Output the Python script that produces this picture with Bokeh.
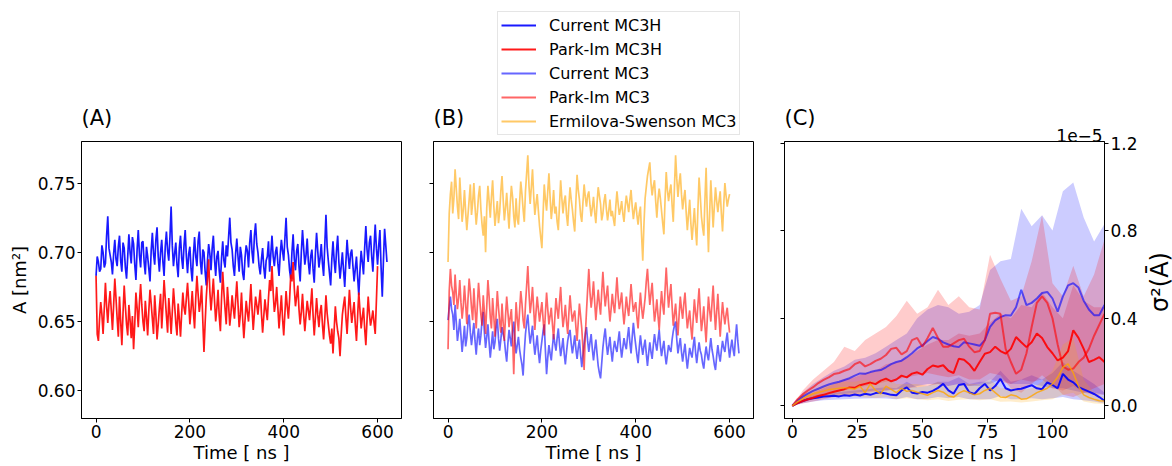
import math
import numpy as np
from bokeh.plotting import figure
from bokeh.models import (Range1d, FixedTicker, PrintfTickFormatter, CustomJSTickFormatter,
                          LinearAxis, Legend, LegendItem, Label)
from bokeh.layouts import row, column
from bokeh.embed import file_html
from bokeh.resources import INLINE

FONT = "DejaVu Sans"

# ---------------- Panel A / B : area per lipid time series (nm^2), every 2.5 ns ----------------
current_mc3h = [
    0.683, 0.697, 0.693, 0.686, 0.688, 0.705, 0.700, 0.689, 0.692, 0.712, 0.726, 0.703, 0.698, 0.693, 0.684, 0.699, 0.709, 0.695, 0.690, 0.704,
    0.712, 0.694, 0.686, 0.707, 0.703, 0.689, 0.681, 0.697, 0.713, 0.700, 0.692, 0.711, 0.706, 0.691, 0.680, 0.702, 0.716, 0.698, 0.689, 0.707,
    0.708, 0.693, 0.684, 0.704, 0.697, 0.688, 0.679, 0.701, 0.714, 0.699, 0.691, 0.709, 0.718, 0.697, 0.686, 0.700, 0.709, 0.693, 0.683, 0.704,
    0.715, 0.701, 0.694, 0.711, 0.733, 0.705, 0.690, 0.699, 0.707, 0.691, 0.682, 0.703, 0.712, 0.696, 0.688, 0.705, 0.716, 0.697, 0.685, 0.699,
    0.704, 0.688, 0.679, 0.698, 0.711, 0.697, 0.690, 0.708, 0.715, 0.693, 0.684, 0.702, 0.700, 0.686, 0.676, 0.694, 0.706, 0.699, 0.687, 0.703,
    0.712, 0.695, 0.683, 0.697, 0.701, 0.687, 0.678, 0.696, 0.708, 0.694, 0.689, 0.705, 0.697, 0.711, 0.725, 0.707, 0.702, 0.690, 0.683, 0.699,
    0.710, 0.697, 0.686, 0.704, 0.698, 0.685, 0.680, 0.696, 0.705, 0.701, 0.689, 0.707, 0.716, 0.700, 0.692, 0.712, 0.721, 0.706, 0.700, 0.690,
    0.684, 0.695, 0.703, 0.689, 0.681, 0.694, 0.697, 0.708, 0.686, 0.699, 0.712, 0.697, 0.690, 0.700, 0.704, 0.692, 0.683, 0.698, 0.709, 0.701,
    0.694, 0.710, 0.725, 0.704, 0.698, 0.687, 0.681, 0.700, 0.713, 0.695, 0.687, 0.701, 0.706, 0.690, 0.679, 0.700, 0.716, 0.703, 0.691, 0.698,
    0.710, 0.693, 0.684, 0.697, 0.702, 0.688, 0.678, 0.699, 0.714, 0.701, 0.689, 0.696, 0.706, 0.692, 0.683, 0.705, 0.727, 0.704, 0.694, 0.685,
    0.676, 0.695, 0.708, 0.694, 0.685, 0.701, 0.712, 0.693, 0.681, 0.690, 0.700, 0.687, 0.675, 0.693, 0.709, 0.697, 0.688, 0.699, 0.702, 0.690,
    0.679, 0.688, 0.697, 0.682, 0.669, 0.687, 0.701, 0.693, 0.684, 0.703, 0.719, 0.702, 0.693, 0.707, 0.712, 0.697, 0.686, 0.704, 0.720, 0.703,
    0.691, 0.705, 0.716, 0.689, 0.668, 0.694, 0.717, 0.705, 0.693,
]

parkim_mc3h = [
    0.683, 0.641, 0.636, 0.652, 0.664, 0.655, 0.641, 0.659, 0.678, 0.661, 0.649, 0.663, 0.672, 0.658, 0.644, 0.662, 0.681, 0.667, 0.652, 0.639,
    0.668, 0.650, 0.633, 0.656, 0.676, 0.661, 0.648, 0.640, 0.662, 0.651, 0.638, 0.654, 0.630, 0.648, 0.671, 0.660, 0.646, 0.664, 0.677, 0.662,
    0.650, 0.643, 0.665, 0.653, 0.640, 0.658, 0.673, 0.663, 0.652, 0.641, 0.669, 0.655, 0.637, 0.648, 0.660, 0.670, 0.645, 0.661, 0.680, 0.667,
    0.654, 0.642, 0.667, 0.656, 0.641, 0.657, 0.674, 0.662, 0.649, 0.640, 0.663, 0.652, 0.639, 0.656, 0.671, 0.660, 0.655, 0.667, 0.678, 0.664,
    0.648, 0.659, 0.672, 0.657, 0.645, 0.667, 0.683, 0.670, 0.657, 0.664, 0.676, 0.651, 0.628, 0.649, 0.668, 0.681, 0.695, 0.672, 0.658, 0.669,
    0.681, 0.665, 0.650, 0.660, 0.673, 0.654, 0.643, 0.667, 0.686, 0.671, 0.659, 0.648, 0.675, 0.662, 0.647, 0.656, 0.669, 0.660, 0.652, 0.666,
    0.679, 0.663, 0.646, 0.655, 0.671, 0.652, 0.638, 0.651, 0.665, 0.657, 0.650, 0.663, 0.677, 0.659, 0.644, 0.656, 0.668, 0.662, 0.655, 0.664,
    0.673, 0.656, 0.642, 0.654, 0.666, 0.658, 0.651, 0.667, 0.680, 0.672, 0.690, 0.671, 0.657, 0.663, 0.675, 0.660, 0.645, 0.657, 0.669, 0.652,
    0.640, 0.656, 0.672, 0.661, 0.652, 0.666, 0.684, 0.679, 0.693, 0.674, 0.661, 0.668, 0.676, 0.659, 0.648, 0.657, 0.670, 0.655, 0.643, 0.654,
    0.665, 0.658, 0.651, 0.662, 0.674, 0.655, 0.640, 0.653, 0.667, 0.655, 0.646, 0.657, 0.662, 0.648, 0.637, 0.652, 0.669, 0.656, 0.648, 0.640,
    0.634, 0.645, 0.627, 0.644, 0.661, 0.650, 0.643, 0.638, 0.625, 0.641, 0.655, 0.662, 0.668, 0.653, 0.641, 0.657, 0.673, 0.660, 0.649, 0.657,
    0.664, 0.648, 0.636, 0.654, 0.671, 0.658, 0.645, 0.653, 0.660, 0.645, 0.633, 0.651, 0.668, 0.656, 0.647, 0.652, 0.658, 0.649, 0.641, 0.665,
    0.690,
]

current_mc3 = [
    0.651, 0.660, 0.668, 0.659, 0.655, 0.644, 0.662, 0.650, 0.636, 0.643, 0.652, 0.640, 0.628, 0.637, 0.647, 0.632, 0.638, 0.649, 0.655, 0.642,
    0.633, 0.641, 0.649, 0.636, 0.626, 0.638, 0.645, 0.633, 0.640, 0.651, 0.657, 0.642, 0.631, 0.639, 0.648, 0.635, 0.624, 0.633, 0.643, 0.630,
    0.635, 0.646, 0.652, 0.638, 0.629, 0.637, 0.646, 0.641, 0.637, 0.628, 0.621, 0.634, 0.644, 0.638, 0.632, 0.643, 0.650, 0.636, 0.627, 0.633,
    0.639, 0.630, 0.624, 0.619, 0.611, 0.628, 0.641, 0.649, 0.655, 0.643, 0.634, 0.640, 0.647, 0.635, 0.626, 0.633, 0.640, 0.628, 0.620, 0.629,
    0.636, 0.643, 0.648, 0.629, 0.612, 0.624, 0.633, 0.627, 0.622, 0.632, 0.641, 0.634, 0.629, 0.638, 0.645, 0.634, 0.625, 0.631, 0.638, 0.627,
    0.619, 0.628, 0.636, 0.641, 0.644, 0.634, 0.627, 0.633, 0.640, 0.630, 0.623, 0.631, 0.637, 0.626, 0.617, 0.626, 0.634, 0.641, 0.646, 0.636,
    0.628, 0.635, 0.641, 0.630, 0.622, 0.630, 0.637, 0.627, 0.618, 0.613, 0.609, 0.620, 0.631, 0.639, 0.645, 0.634, 0.626, 0.632, 0.639, 0.629,
    0.621, 0.630, 0.636, 0.631, 0.628, 0.636, 0.643, 0.632, 0.624, 0.631, 0.638, 0.633, 0.630, 0.639, 0.646, 0.635, 0.627, 0.639, 0.649, 0.640,
    0.633, 0.626, 0.620, 0.631, 0.640, 0.632, 0.626, 0.632, 0.637, 0.627, 0.618, 0.627, 0.635, 0.628, 0.623, 0.633, 0.641, 0.634, 0.629, 0.637,
    0.644, 0.633, 0.625, 0.631, 0.636, 0.626, 0.619, 0.626, 0.633, 0.630, 0.628, 0.637, 0.643, 0.647, 0.650, 0.637, 0.627, 0.633, 0.638, 0.628,
    0.621, 0.628, 0.634, 0.624, 0.616, 0.624, 0.631, 0.627, 0.624, 0.632, 0.639, 0.628, 0.620, 0.628, 0.635, 0.629, 0.626, 0.620, 0.616, 0.625,
    0.632, 0.626, 0.622, 0.630, 0.638, 0.630, 0.625, 0.619, 0.615, 0.625, 0.633, 0.626, 0.621, 0.629, 0.636, 0.631, 0.628, 0.636, 0.642, 0.632,
    0.624, 0.631, 0.637, 0.630, 0.625, 0.638, 0.648, 0.636, 0.627,
]

parkim_mc3 = [
    0.630, 0.672, 0.688, 0.676, 0.671, 0.662, 0.684, 0.670, 0.659, 0.667, 0.680, 0.664, 0.652, 0.661, 0.676, 0.663, 0.648, 0.666, 0.681, 0.672,
    0.660, 0.651, 0.674, 0.659, 0.645, 0.662, 0.678, 0.666, 0.655, 0.647, 0.669, 0.657, 0.641, 0.661, 0.680, 0.668, 0.653, 0.645, 0.667, 0.654,
    0.639, 0.655, 0.672, 0.660, 0.650, 0.642, 0.663, 0.649, 0.636, 0.654, 0.668, 0.657, 0.646, 0.653, 0.659, 0.640, 0.612, 0.641, 0.664, 0.652,
    0.643, 0.658, 0.672, 0.663, 0.651, 0.645, 0.662, 0.676, 0.690, 0.671, 0.656, 0.664, 0.675, 0.659, 0.644, 0.657, 0.668, 0.659, 0.650, 0.657,
    0.664, 0.652, 0.640, 0.656, 0.671, 0.659, 0.648, 0.654, 0.660, 0.648, 0.637, 0.652, 0.667, 0.659, 0.652, 0.664, 0.675, 0.658, 0.646, 0.653,
    0.662, 0.650, 0.641, 0.656, 0.669, 0.658, 0.650, 0.655, 0.658, 0.646, 0.636, 0.650, 0.663, 0.654, 0.645, 0.631, 0.615, 0.640, 0.657, 0.673,
    0.688, 0.671, 0.660, 0.668, 0.679, 0.664, 0.651, 0.662, 0.673, 0.663, 0.655, 0.671, 0.686, 0.672, 0.661, 0.669, 0.676, 0.661, 0.650, 0.659,
    0.670, 0.662, 0.656, 0.669, 0.682, 0.668, 0.659, 0.664, 0.671, 0.658, 0.648, 0.657, 0.668, 0.660, 0.654, 0.665, 0.677, 0.666, 0.657, 0.661,
    0.664, 0.653, 0.645, 0.659, 0.671, 0.660, 0.652, 0.659, 0.667, 0.679, 0.688, 0.674, 0.662, 0.670, 0.678, 0.663, 0.650, 0.657, 0.666, 0.654,
    0.644, 0.659, 0.672, 0.662, 0.655, 0.673, 0.689, 0.673, 0.660, 0.669, 0.677, 0.661, 0.647, 0.655, 0.663, 0.650, 0.640, 0.655, 0.668, 0.659,
    0.652, 0.663, 0.671, 0.657, 0.645, 0.652, 0.658, 0.646, 0.637, 0.652, 0.666, 0.656, 0.649, 0.662, 0.674, 0.658, 0.643, 0.651, 0.661, 0.647,
    0.635, 0.652, 0.668, 0.658, 0.650, 0.663, 0.676, 0.659, 0.644, 0.657, 0.670, 0.654, 0.639, 0.652, 0.664, 0.655, 0.648, 0.655, 0.660, 0.650,
    0.642,
]

ermilova_mc3 = [
    0.693, 0.728, 0.742, 0.751, 0.728, 0.739, 0.760, 0.746, 0.733, 0.724, 0.754, 0.738, 0.722, 0.731, 0.745, 0.729, 0.716, 0.727, 0.738, 0.749,
    0.727, 0.736, 0.750, 0.733, 0.720, 0.729, 0.741, 0.748, 0.731, 0.720, 0.712, 0.726, 0.700, 0.732, 0.748, 0.737, 0.725, 0.740, 0.752, 0.734,
    0.719, 0.728, 0.737, 0.721, 0.729, 0.744, 0.755, 0.738, 0.723, 0.732, 0.743, 0.729, 0.717, 0.735, 0.748, 0.740, 0.726, 0.718, 0.739, 0.724,
    0.720, 0.736, 0.751, 0.742, 0.731, 0.722, 0.744, 0.757, 0.770, 0.748, 0.735, 0.747, 0.760, 0.741, 0.727, 0.735, 0.742, 0.730, 0.719, 0.711,
    0.703, 0.727, 0.749, 0.738, 0.730, 0.744, 0.757, 0.740, 0.724, 0.733, 0.745, 0.728, 0.733, 0.722, 0.716, 0.734, 0.752, 0.739, 0.728, 0.737,
    0.741, 0.727, 0.719, 0.734, 0.747, 0.738, 0.731, 0.722, 0.715, 0.737, 0.756, 0.745, 0.738, 0.727, 0.722, 0.736, 0.749, 0.740, 0.733, 0.741,
    0.744, 0.734, 0.726, 0.732, 0.740, 0.729, 0.721, 0.735, 0.747, 0.741, 0.735, 0.723, 0.728, 0.737, 0.742, 0.731, 0.723, 0.730, 0.738, 0.726,
    0.730, 0.724, 0.719, 0.733, 0.744, 0.735, 0.727, 0.731, 0.737, 0.728, 0.722, 0.733, 0.741, 0.735, 0.729, 0.738, 0.745, 0.733, 0.724, 0.731,
    0.736, 0.727, 0.720, 0.728, 0.733, 0.712, 0.694, 0.720, 0.739, 0.747, 0.755, 0.760, 0.765, 0.750, 0.741, 0.748, 0.752, 0.737, 0.725, 0.738,
    0.746, 0.739, 0.730, 0.721, 0.713, 0.738, 0.758, 0.745, 0.737, 0.744, 0.749, 0.734, 0.722, 0.747, 0.770, 0.753, 0.740, 0.750, 0.757, 0.742,
    0.731, 0.739, 0.745, 0.729, 0.716, 0.727, 0.738, 0.721, 0.709, 0.720, 0.732, 0.717, 0.705, 0.731, 0.754, 0.741, 0.726, 0.718, 0.712, 0.738,
    0.761, 0.728, 0.700, 0.728, 0.752, 0.735, 0.718, 0.733, 0.747, 0.737, 0.729, 0.737, 0.744, 0.728, 0.715, 0.734, 0.750, 0.741, 0.733, 0.738,
    0.742,
]

STEP_NS = 2.5
t_current_mc3h = np.arange(len(current_mc3h)) * STEP_NS
t_parkim_mc3h = np.arange(len(parkim_mc3h)) * STEP_NS
t_current_mc3 = np.arange(len(current_mc3)) * STEP_NS
t_parkim_mc3 = np.arange(len(parkim_mc3)) * STEP_NS
t_ermilova_mc3 = np.arange(len(ermilova_mc3)) * STEP_NS

# ---------------- Panel C : block averaging variance (units of 1e-5) ----------------
var_current_mc3h = [
    0, 0.012, 0.022, 0.030, 0.034, 0.038, 0.042, 0.044, 0.046, 0.043,
    0.048, 0.046, 0.052, 0.047, 0.055, 0.050, 0.058, 0.061, 0.056, 0.050,
    0.048, 0.070, 0.084, 0.060, 0.056, 0.063, 0.060, 0.068, 0.082, 0.100,
    0.070, 0.056, 0.095, 0.100, 0.062, 0.054, 0.080, 0.100, 0.070, 0.090,
    0.123, 0.080, 0.070, 0.075, 0.078, 0.086, 0.094, 0.080, 0.076, 0.107,
    0.095, 0.080, 0.146, 0.120, 0.107, 0.085, 0.075, 0.065, 0.054, 0.040,
    0.023,
]
var_parkim_mc3h = [
    0, 0.012, 0.022, 0.030, 0.037, 0.045, 0.050, 0.058, 0.064, 0.070,
    0.076, 0.084, 0.082, 0.094, 0.100, 0.106, 0.099, 0.115, 0.124, 0.112,
    0.120, 0.138, 0.130, 0.147, 0.153, 0.142, 0.168, 0.184, 0.178, 0.185,
    0.160, 0.150, 0.215, 0.210, 0.190, 0.160, 0.200, 0.238, 0.245, 0.270,
    0.250, 0.238, 0.260, 0.314, 0.290, 0.268, 0.290, 0.330, 0.310, 0.268,
    0.240, 0.207, 0.220, 0.250, 0.345, 0.310, 0.260, 0.200, 0.210, 0.222,
    0.200,
]
var_current_mc3 = [
    0, 0.025, 0.042, 0.056, 0.068, 0.078, 0.088, 0.097, 0.104, 0.110,
    0.118, 0.126, 0.138, 0.148, 0.146, 0.154, 0.160, 0.163, 0.176, 0.190,
    0.200, 0.206, 0.222, 0.240, 0.262, 0.276, 0.296, 0.314, 0.306, 0.290,
    0.280, 0.272, 0.268, 0.290, 0.285, 0.280, 0.274, 0.300, 0.360, 0.390,
    0.405, 0.414, 0.412, 0.450, 0.530, 0.460, 0.470, 0.490, 0.515, 0.520,
    0.490, 0.430, 0.500, 0.550, 0.560, 0.540, 0.480, 0.440, 0.414, 0.414,
    0.460,
]
var_parkim_mc3 = [
    0, 0.030, 0.052, 0.070, 0.085, 0.104, 0.118, 0.130, 0.145, 0.150,
    0.160, 0.168, 0.190, 0.200, 0.180, 0.190, 0.205, 0.215, 0.232, 0.260,
    0.265, 0.235, 0.250, 0.300, 0.310, 0.270, 0.310, 0.356, 0.310, 0.270,
    0.270, 0.285, 0.300, 0.306, 0.270, 0.245, 0.250, 0.300, 0.420, 0.425,
    0.420, 0.260, 0.200, 0.146, 0.165, 0.240, 0.360, 0.470, 0.500, 0.470,
    0.400, 0.280, 0.180, 0.165, 0.170, 0.200, 0.220, 0.260, 0.320, 0.370,
    0.420,
]
var_ermilova_mc3 = [
    0, 0.018, 0.032, 0.045, 0.055, 0.061, 0.067, 0.074, 0.077, 0.080,
    0.083, 0.080, 0.076, 0.090, 0.060, 0.100, 0.070, 0.055, 0.090, 0.075,
    0.060, 0.080, 0.066, 0.070, 0.062, 0.055, 0.048, 0.060, 0.070, 0.062,
    0.045, 0.040, 0.058, 0.069, 0.060, 0.050, 0.055, 0.070, 0.080, 0.060,
    0.040, 0.038, 0.050, 0.045, 0.030, 0.032, 0.045, 0.060, 0.070, 0.080,
    0.100, 0.130, 0.175, 0.192, 0.150, 0.090, 0.050, 0.038, 0.030, 0.023,
    0.022,
]
block_line = np.arange(len(var_current_mc3h)) * 2.0

# spread bands (lower / upper), every 4 ns
cur_mc3h_lo = [0, 0.012, 0.020, 0.025, 0.028, 0.030, 0.032, 0.033, 0.035, 0.033, 0.030,
               0.040, 0.030, 0.032, 0.040, 0.035, 0.040, 0.030, 0.030, 0.030, 0.045,
               0.030, 0.030, 0.035, 0.030, 0.035, 0.040, 0.030, 0.025, 0.020, 0.010]
cur_mc3h_hi = [0, 0.030, 0.045, 0.055, 0.060, 0.065, 0.070, 0.075, 0.080, 0.085, 0.080,
               0.110, 0.085, 0.090, 0.110, 0.110, 0.130, 0.100, 0.110, 0.110, 0.160,
               0.110, 0.120, 0.140, 0.120, 0.150, 0.200, 0.160, 0.130, 0.100, 0.060]
pim_mc3h_lo = [0, 0.010, 0.020, 0.030, 0.040, 0.045, 0.050, 0.060, 0.065, 0.070, 0.075,
               0.080, 0.085, 0.090, 0.100, 0.090, 0.100, 0.090, 0.100, 0.120, 0.110,
               0.100, 0.120, 0.110, 0.120, 0.080, 0.070, 0.090, 0.060, 0.050, 0.050]
pim_mc3h_hi = [0, 0.040, 0.060, 0.080, 0.100, 0.120, 0.130, 0.150, 0.160, 0.190, 0.200,
               0.220, 0.250, 0.280, 0.300, 0.300, 0.330, 0.320, 0.330, 0.380, 0.420,
               0.400, 0.460, 0.450, 0.520, 0.450, 0.400, 0.550, 0.480, 0.450, 0.450]
cur_mc3_lo = [0, 0.020, 0.035, 0.045, 0.050, 0.055, 0.060, 0.065, 0.070, 0.070, 0.075,
              0.080, 0.090, 0.100, 0.100, 0.090, 0.100, 0.090, 0.090, 0.100, 0.120,
              0.100, 0.100, 0.100, 0.090, 0.080, 0.080, 0.070, 0.060, 0.060, 0.050]
cur_mc3_hi = [0, 0.060, 0.100, 0.130, 0.160, 0.180, 0.210, 0.220, 0.240, 0.270, 0.300,
              0.330, 0.400, 0.440, 0.460, 0.450, 0.420, 0.430, 0.460, 0.620, 0.660,
              0.670, 0.900, 0.820, 0.870, 0.800, 0.980, 1.020, 0.860, 0.750, 0.830]
pim_mc3_lo = [0, 0.015, 0.030, 0.045, 0.060, 0.070, 0.080, 0.090, 0.100, 0.110, 0.120,
              0.130, 0.140, 0.150, 0.140, 0.130, 0.140, 0.120, 0.120, 0.150, 0.140,
              0.080, 0.060, 0.100, 0.140, 0.100, 0.050, 0.040, 0.060, 0.080, 0.100]
pim_mc3_hi = [0, 0.070, 0.120, 0.160, 0.200, 0.270, 0.250, 0.300, 0.330, 0.360, 0.410,
              0.480, 0.420, 0.450, 0.530, 0.460, 0.500, 0.450, 0.440, 0.690, 0.580,
              0.480, 0.500, 0.660, 0.870, 0.560, 0.500, 0.640, 0.500, 0.600, 0.760]
erm_mc3_lo = [0, 0.018, 0.030, 0.038, 0.040, 0.045, 0.042, 0.038, 0.035, 0.040, 0.030,
              0.035, 0.030, 0.025, 0.030, 0.022, 0.028, 0.030, 0.025, 0.030, 0.018,
              0.020, 0.015, 0.020, 0.025, 0.030, 0.050, 0.060, 0.020, 0.010, 0.008]
erm_mc3_hi = [0, 0.050, 0.075, 0.090, 0.100, 0.110, 0.110, 0.120, 0.110, 0.130, 0.100,
              0.100, 0.100, 0.090, 0.110, 0.090, 0.100, 0.100, 0.100, 0.120, 0.080,
              0.080, 0.070, 0.080, 0.110, 0.160, 0.280, 0.310, 0.120, 0.060, 0.040]
block_band = np.arange(len(cur_mc3h_lo)) * 4.0

labels = ["Current MC3H", "Park-Im MC3H", "Current MC3", "Park-Im MC3", "Ermilova-Swenson MC3"]
titles = ["(A)", "(B)", "(C)"]
offset_text = "1e−5"

BLUE = "#0000ff"
RED = "#ff0000"
ORANGE = "#ffa500"

TICK_PX = "17px"
LABEL_PX = "18px"
TS_WIDTH = 1.7

# ---------------- geometry (page pixels) ----------------
PAGE_H = 466
FRAME_TOP = 141
BOT_B = 48
HEADER_H = 139
ROW_H = PAGE_H - HEADER_H
TOP_B = FRAME_TOP - HEADER_H

empty_fmt = CustomJSTickFormatter(code="return ''")


def style_axis(ax, label=None):
    ax.major_label_text_font = FONT
    ax.major_label_text_font_size = TICK_PX
    ax.major_label_text_color = "black"
    ax.axis_label_text_font = FONT
    ax.axis_label_text_font_size = LABEL_PX
    ax.axis_label_text_font_style = "normal"
    ax.axis_label_text_color = "black"
    ax.major_tick_out = 4
    ax.major_tick_in = 0
    ax.minor_tick_out = 0
    ax.minor_tick_in = 0
    ax.major_tick_line_color = "black"
    ax.axis_line_color = "black"
    ax.major_label_standoff = 2
    ax.axis_label_standoff = 1
    if label is not None:
        ax.axis_label = label


def make_fig(x_range, y_range, width, height, left, right, top, y_axis_location="left"):
    p = figure(width=width, height=height, x_range=x_range, y_range=y_range,
               output_backend="svg", toolbar_location=None,
               min_border_left=left, min_border_right=right,
               min_border_top=top, min_border_bottom=BOT_B,
               y_axis_location=y_axis_location)
    p.xgrid.visible = False
    p.ygrid.visible = False
    p.outline_line_color = "black"
    p.outline_line_width = 1
    p.outline_line_alpha = 1
    p.background_fill_color = "white"
    p.border_fill_color = "white"
    return p


def blank_fig(width, height):
    p = figure(width=width, height=height, x_range=Range1d(0, 1), y_range=Range1d(0, 1),
               output_backend="svg", toolbar_location=None,
               x_axis_type=None, y_axis_type=None, min_border=0)
    p.xgrid.visible = False
    p.ygrid.visible = False
    p.outline_line_color = None
    p.background_fill_color = "white"
    p.border_fill_color = "white"
    return p


# ---------------- Panel A ----------------
pA = make_fig(Range1d(-31, 651), Range1d(0.58, 0.78), 417, ROW_H, 81, 16, TOP_B)
pA.line(t_current_mc3h, current_mc3h, line_color=BLUE, line_alpha=0.9, line_width=TS_WIDTH)
pA.line(t_parkim_mc3h, parkim_mc3h, line_color=RED, line_alpha=0.9, line_width=TS_WIDTH)
style_axis(pA.xaxis[0], "Time [ ns ]")
style_axis(pA.yaxis[0], "A [nm²]")
pA.yaxis[0].axis_label_standoff = 5
pA.xaxis[0].ticker = FixedTicker(ticks=[0, 200, 400, 600])
pA.yaxis[0].ticker = FixedTicker(ticks=[0.60, 0.65, 0.70, 0.75])
pA.yaxis[0].formatter = PrintfTickFormatter(format="%.2f")

# ---------------- Panel B ----------------
pB = make_fig(Range1d(-31, 651), Range1d(0.58, 0.78), 352, ROW_H, 16, 16, TOP_B)
pB.line(t_current_mc3, current_mc3, line_color=BLUE, line_alpha=0.6, line_width=TS_WIDTH)
pB.line(t_parkim_mc3, parkim_mc3, line_color=RED, line_alpha=0.6, line_width=TS_WIDTH)
pB.line(t_ermilova_mc3, ermilova_mc3, line_color=ORANGE, line_alpha=0.6, line_width=TS_WIDTH)
style_axis(pB.xaxis[0], "Time [ ns ]")
style_axis(pB.yaxis[0])
pB.xaxis[0].ticker = FixedTicker(ticks=[0, 200, 400, 600])
pB.yaxis[0].ticker = FixedTicker(ticks=[0.60, 0.65, 0.70, 0.75])
pB.yaxis[0].formatter = empty_fmt

# ---------------- Panel C (full page height, own titles above the frame) ----------------
pC = make_fig(Range1d(-3, 120), Range1d(-0.058, 1.207), 373, PAGE_H, 15, 38, FRAME_TOP,
              y_axis_location="right")
pC.varea(block_band, cur_mc3h_lo, cur_mc3h_hi, fill_color=BLUE, fill_alpha=0.2)
pC.varea(block_band, pim_mc3h_lo, pim_mc3h_hi, fill_color=RED, fill_alpha=0.2)
pC.varea(block_band, cur_mc3_lo, cur_mc3_hi, fill_color=BLUE, fill_alpha=0.2)
pC.varea(block_band, pim_mc3_lo, pim_mc3_hi, fill_color=RED, fill_alpha=0.2)
pC.varea(block_band, erm_mc3_lo, erm_mc3_hi, fill_color=ORANGE, fill_alpha=0.2)
pC.line(block_line, var_current_mc3h, line_color=BLUE, line_alpha=0.9, line_width=2)
pC.line(block_line, var_parkim_mc3h, line_color=RED, line_alpha=0.9, line_width=2)
pC.line(block_line, var_current_mc3, line_color=BLUE, line_alpha=0.6, line_width=2)
pC.line(block_line, var_parkim_mc3, line_color=RED, line_alpha=0.6, line_width=2)
pC.line(block_line, var_ermilova_mc3, line_color=ORANGE, line_alpha=0.8, line_width=1.5)
style_axis(pC.xaxis[0], "Block Size [ ns ]")
pC.xaxis[0].ticker = FixedTicker(ticks=[0, 25, 50, 75, 100])
right_ax = pC.yaxis[0]
style_axis(right_ax)
right_ax.ticker = FixedTicker(ticks=[0.0, 0.4, 0.8, 1.2])
right_ax.formatter = PrintfTickFormatter(format="%.1f")
left_ax = LinearAxis(ticker=FixedTicker(ticks=[0.0, 0.4, 0.8, 1.2]), formatter=empty_fmt)
style_axis(left_ax)
pC.add_layout(left_ax, "left")

# title "(C)" (outermost) and scale-offset text just above the frame
pC.title.text = titles[2]
pC.title.text_font = FONT
pC.title.text_font_size = "21px"
pC.title.text_font_style = "normal"
pC.title.text_color = "black"
pC.title.align = "left"
pC.title.standoff = -9
offset_ax = LinearAxis(ticker=FixedTicker(ticks=[110.4]),
                       major_label_overrides={110.4: offset_text})
offset_ax.major_label_text_font = FONT
offset_ax.major_label_text_font_size = TICK_PX
offset_ax.major_label_text_color = "black"
offset_ax.major_tick_out = 0
offset_ax.major_tick_in = 0
offset_ax.minor_tick_out = 0
offset_ax.minor_tick_in = 0
offset_ax.axis_line_color = None
offset_ax.major_tick_line_color = None
offset_ax.major_label_standoff = 0
pC.add_layout(offset_ax, "above")

# ---------------- right-hand axis title strip ----------------
pSig = blank_fig(30, PAGE_H)
pSig.add_layout(Label(x=17, y=PAGE_H - 279.5 - 50, x_units="screen", y_units="screen",
                      text="σ²(Ā)", angle=math.pi / 2, text_align="center",
                      text_baseline="middle", text_font=FONT, text_font_size="24px",
                      text_color="black"))

# ---------------- header over panels A and B: titles and legend ----------------
header = blank_fig(769, HEADER_H)
for txt, xpos in zip(titles[:2], [81, 433]):
    header.add_layout(Label(x=xpos, y=HEADER_H - 117.5, x_units="screen", y_units="screen",
                            text=txt, text_font=FONT, text_font_size="21px",
                            text_color="black", text_baseline="middle", text_align="left"))

legend_styles = [(BLUE, 0.9), (RED, 0.9), (BLUE, 0.6), (RED, 0.6), (ORANGE, 0.6)]
items = []
for lab, (col, alp) in zip(labels, legend_styles):
    # off-canvas proxy renderer, used only to draw the legend swatch
    r = header.line([5, 6], [5, 6], line_color=col, line_alpha=alp, line_width=2)
    items.append(LegendItem(label=lab, renderers=[r]))
legend = Legend(items=items, location=(497, HEADER_H - 135))
legend.label_text_font = FONT
legend.label_text_font_size = "16px"
legend.label_text_color = "black"
legend.glyph_width = 35
legend.glyph_height = 20
legend.label_height = 20
legend.label_standoff = 13
legend.spacing = 4
legend.padding = 3
legend.margin = 0
legend.border_line_color = "#cccccc"
legend.border_line_width = 1
legend.background_fill_color = "white"
legend.background_fill_alpha = 1.0
header.add_layout(legend, "center")

layout = row(column(header, row(pA, pB)), pC, pSig)
open("out.html", "w").write(file_html(layout, INLINE))
